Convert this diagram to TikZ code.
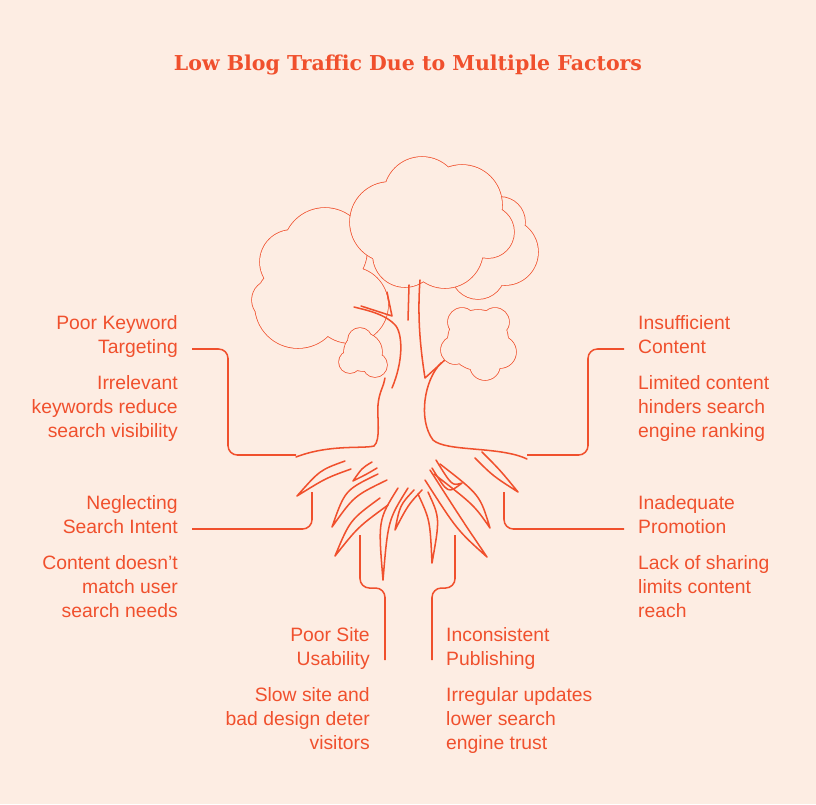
\documentclass[tikz,border=0pt]{standalone}
\usepackage{fontspec}
\setmainfont{Liberation Sans}
\newfontfamily\titlefont{DejaVu Serif}
\usetikzlibrary{positioning,calc}
\definecolor{bgpeach}{HTML}{FDEDE3}
\definecolor{treered}{HTML}{F0502D}
\newcommand{\treeroot}[4]{%
  \draw[tree line] (#1) .. controls (#2) .. (#3)
    .. controls ($(#2)+(#4)$) .. ($(#1)+(#4)$);}
\begin{document}
\begin{tikzpicture}[
    x=0.03cm, y=-0.03cm,
    tree line/.style={draw=treered, line width=1.3pt, line join=round, line cap=round},
    link/.style={draw=treered, line width=1.3pt, rounded corners=8pt},
    heading/.style={text=treered, font=\fontsize{16.5}{20.4}\selectfont, inner sep=0pt},
    note/.style={text=treered, font=\fontsize{16.5}{20.4}\selectfont, inner sep=0pt},
    cloud fill/.style={fill=bgpeach}
]
    \fill[bgpeach] (0,0) rectangle (816,804);
    \useasboundingbox (0,0) rectangle (816,804);

    \node[text=treered, font=\titlefont\bfseries\fontsize{17.5}{20}\selectfont] (title) at (408,65) {Low Blog Traffic Due to Multiple Factors};

    % canopy, back right
    \draw[tree line] (505,252) circle (33) (500,222) circle (25) (478,272) circle (27);
    \fill[cloud fill] (505,252) circle (33) (500,222) circle (25) (478,272) circle (27);
    % canopy, left
    \draw[tree line] (298,305) circle (43) (325,250) circle (42) (292,262) circle (32) (350,305) circle (38) (272,300) circle (20);
    \fill[cloud fill] (298,305) circle (43) (325,250) circle (42) (292,262) circle (32) (350,305) circle (38) (272,300) circle (20);
    % canopy, middle
    \draw[tree line] (390,222) circle (40) (422,195) circle (38) (462,205) circle (40) (488,232) circle (26) (445,250) circle (38) (405,255) circle (32);
    \fill[cloud fill] (390,222) circle (40) (422,195) circle (38) (462,205) circle (40) (488,232) circle (26) (445,250) circle (38) (405,255) circle (32);

    % trunk
    \draw[tree line] (296,457) .. controls (330,444) and (362,449) .. (374,446)
        .. controls (381,440) and (377,418) .. (378,405)
        .. controls (379,392) and (384,386) .. (385,378);
    \draw[tree line] (392,388) .. controls (403,362) and (403,336) .. (396,326)
        .. controls (386,314) and (366,310) .. (354,307);
    \draw[tree line] (361,306) -- (392,316) -- (387,292);
    \draw[tree line] (408,320) -- (409,285);
    \draw[tree line] (420,280) .. controls (417,320) and (421,352) .. (425,378) -- (447,358);
    \draw[tree line] (441,363) .. controls (424,380) and (418,420) .. (433,440)
        .. controls (446,452) and (500,446) .. (527,459);

    % small clouds
    \draw[tree line] (363,352) circle (19) (350,362) circle (11) (375,365) circle (12) (360,340) circle (12);
    \fill[cloud fill] (363,352) circle (19) (350,362) circle (11) (375,365) circle (12) (360,340) circle (12);
    \draw[tree line] (478,340) circle (30) (455,350) circle (14) (500,352) circle (16) (485,365) circle (15) (462,322) circle (14) (495,322) circle (14);
    \fill[cloud fill] (478,340) circle (30) (455,350) circle (14) (500,352) circle (16) (485,365) circle (15) (462,322) circle (14) (495,322) circle (14);

    % roots
    \treeroot{345,461}{320,470}{297,496}{6,8}
    \treeroot{372,462}{362,468}{353,481}{5,6}
    \treeroot{378,474}{345,490}{332,527}{9,6}
    \treeroot{380,498}{350,520}{335,556}{8,7}
    \treeroot{398,488}{378,520}{383,580}{10,0}
    \treeroot{414,490}{400,505}{395,530}{8,0}
    \treeroot{418,494}{430,520}{432,563}{10,-2}
    \treeroot{430,470}{462,520}{487,557}{-5,10}
    \treeroot{440,464}{480,495}{490,528}{-6,10}
    \treeroot{436,460}{452,486}{462,483}{-4,8}
    \treeroot{482,452}{500,470}{518,492}{-7,6}

    % connectors
    \coordinate (kwroot) at (296,455);
    \coordinate (introot) at (312,492);
    \coordinate (userroot) at (360,535);
    \coordinate (pubroot) at (455,535);
    \coordinate (promroot) at (504,492);
    \coordinate (controot) at (527,455);

    % left labels
    \node[heading, align=right, anchor=north east] (kw) at (178,315) {Poor Keyword\\Targeting};
    \node[note, align=right, anchor=north east] (kwtext) at (178,375) {Irrelevant\\keywords reduce\\search visibility};
    \node[heading, align=right, anchor=north east] (intent) at (178,495) {Neglecting\\Search Intent};
    \node[note, align=right, anchor=north east] (intenttext) at (178,555) {Content doesn't\\match user\\search needs};
    \node[heading, align=right, anchor=north east] (usab) at (370,627) {Poor Site\\Usability};
    \node[note, align=right, anchor=north east] (usabtext) at (370,687) {Slow site and\\bad design deter\\visitors};
    % right labels
    \node[heading, align=left, anchor=north west] (pub) at (446,627) {Inconsistent\\Publishing};
    \node[note, align=left, anchor=north west] (pubtext) at (446,687) {Irregular updates\\lower search\\engine trust};
    \node[heading, align=left, anchor=north west] (cont) at (638,315) {Insufficient\\Content};
    \node[note, align=left, anchor=north west] (conttext) at (638,375) {Limited content\\hinders search\\engine ranking};
    \node[heading, align=left, anchor=north west] (prom) at (638,495) {Inadequate\\Promotion};
    \node[note, align=left, anchor=north west] (promtext) at (638,555) {Lack of sharing\\limits content\\reach};

    \draw[link] (192,349) -- (228,349) -- (228,455) -- (kwroot);
    \draw[link] (192,529) -- (312,529) -- (introot);
    \draw[link] (385,660) -- (385,588) -- (360,588) -- (userroot);
    \draw[link] (432,660) -- (432,588) -- (455,588) -- (pubroot);
    \draw[link] (624,349) -- (588,349) -- (588,455) -- (controot);
    \draw[link] (624,529) -- (504,529) -- (promroot);
\end{tikzpicture}
\end{document}
